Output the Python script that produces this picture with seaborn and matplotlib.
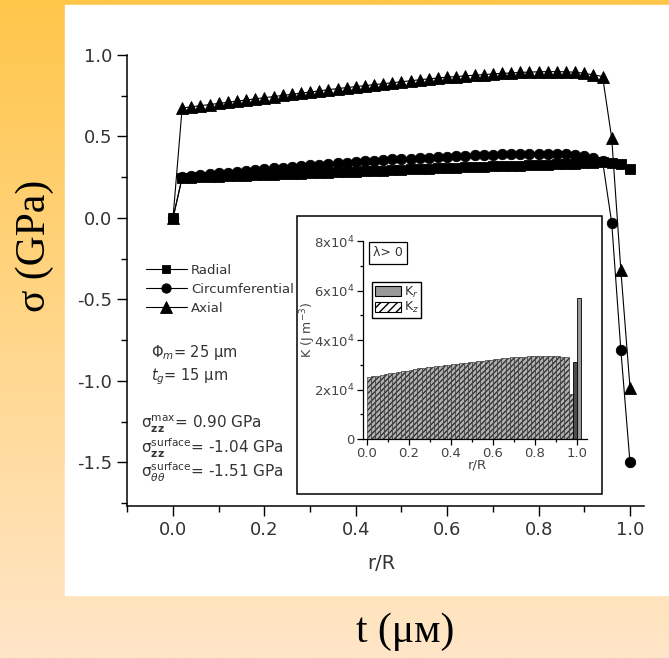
import numpy as np
import pandas as pd
import seaborn as sns
import matplotlib
matplotlib.use("Agg")
import matplotlib.pyplot as plt
from matplotlib.patches import Rectangle, Patch
from matplotlib.ticker import MultipleLocator, FormatStrFormatter

# main plot: stress components vs r/R
r_R = [0.00, 0.02, 0.04, 0.06, 0.08, 0.10, 0.12, 0.14, 0.16, 0.18,
       0.20, 0.22, 0.24, 0.26, 0.28, 0.30, 0.32, 0.34, 0.36, 0.38,
       0.40, 0.42, 0.44, 0.46, 0.48, 0.50, 0.52, 0.54, 0.56, 0.58,
       0.60, 0.62, 0.64, 0.66, 0.68, 0.70, 0.72, 0.74, 0.76, 0.78,
       0.80, 0.82, 0.84, 0.86, 0.88, 0.90, 0.92, 0.94, 0.96, 0.98, 1.00]

radial = [0.000, 0.245, 0.247, 0.249, 0.251, 0.253, 0.255, 0.257, 0.259, 0.261,
          0.263, 0.265, 0.267, 0.269, 0.271, 0.273, 0.275, 0.277, 0.280, 0.282,
          0.284, 0.287, 0.289, 0.291, 0.293, 0.296, 0.298, 0.300, 0.302, 0.304,
          0.306, 0.308, 0.310, 0.312, 0.314, 0.316, 0.318, 0.320, 0.322, 0.324,
          0.326, 0.328, 0.330, 0.332, 0.334, 0.336, 0.340, 0.343, 0.340, 0.332, 0.300]

circumferential = [0.000, 0.250, 0.256, 0.262, 0.268, 0.274, 0.279, 0.284, 0.289, 0.294,
                   0.299, 0.304, 0.309, 0.314, 0.318, 0.323, 0.327, 0.332, 0.336, 0.340,
                   0.344, 0.348, 0.352, 0.356, 0.359, 0.362, 0.365, 0.368, 0.371, 0.374,
                   0.377, 0.380, 0.382, 0.384, 0.386, 0.388, 0.390, 0.391, 0.392, 0.393,
                   0.393, 0.393, 0.392, 0.390, 0.386, 0.379, 0.368, 0.350, -0.03, -0.81, -1.50]

axial = [0.000, 0.675, 0.682, 0.689, 0.696, 0.703, 0.710, 0.717, 0.724, 0.731,
         0.738, 0.745, 0.752, 0.759, 0.766, 0.773, 0.780, 0.787, 0.794, 0.800,
         0.806, 0.812, 0.818, 0.824, 0.830, 0.836, 0.842, 0.848, 0.854, 0.859,
         0.864, 0.868, 0.872, 0.876, 0.880, 0.884, 0.887, 0.890, 0.893, 0.895,
         0.897, 0.898, 0.898, 0.897, 0.894, 0.888, 0.878, 0.868, 0.49, -0.32, -1.04]

# inset: energy density K vs r/R
kz_pos = [0.01, 0.03, 0.05, 0.07, 0.09, 0.11, 0.13, 0.15, 0.17, 0.19,
          0.21, 0.23, 0.25, 0.27, 0.29, 0.31, 0.33, 0.35, 0.37, 0.39,
          0.41, 0.43, 0.45, 0.47, 0.49, 0.51, 0.53, 0.55, 0.57, 0.59,
          0.61, 0.63, 0.65, 0.67, 0.69, 0.71, 0.73, 0.75, 0.77, 0.79,
          0.81, 0.83, 0.85, 0.87, 0.89, 0.91, 0.93, 0.95, 0.97]
kz_vals = [2.50e4, 2.53e4, 2.56e4, 2.59e4, 2.62e4, 2.65e4, 2.67e4, 2.70e4, 2.73e4, 2.76e4,
           2.79e4, 2.82e4, 2.85e4, 2.87e4, 2.89e4, 2.92e4, 2.94e4, 2.96e4, 2.98e4, 3.01e4,
           3.03e4, 3.05e4, 3.07e4, 3.09e4, 3.11e4, 3.13e4, 3.15e4, 3.17e4, 3.19e4, 3.21e4,
           3.23e4, 3.25e4, 3.27e4, 3.28e4, 3.30e4, 3.31e4, 3.32e4, 3.33e4, 3.34e4, 3.35e4,
           3.36e4, 3.37e4, 3.37e4, 3.37e4, 3.36e4, 3.35e4, 3.33e4, 3.30e4, 1.80e4]
kr_pos = [0.992, 1.011]
kr_vals = [3.1e4, 5.7e4]

inset_yticks = [0, 2e4, 4e4, 6e4, 8e4]
inset_ylabels = ["0", r"2x10$^4$", r"4x10$^4$", r"6x10$^4$", r"8x10$^4$"]

sns.set_theme(style="ticks")
plt.rcParams["font.family"] = ["DejaVu Sans"]
plt.rcParams["mathtext.fontset"] = "dejavusans"
plt.rcParams["axes.unicode_minus"] = False

W, H = 669, 658
fig = plt.figure(figsize=(6.69, 6.58), dpi=100)


def px_text(x, y, s, size, **kw):
    kw.setdefault("color", "#333333")
    kw.setdefault("va", "center")
    kw.setdefault("ha", "left")
    return fig.text(x / W, 1 - y / H, s, fontsize=size, **kw)


# slide background
bg = fig.add_axes([0, 0, 1, 1], zorder=-5)
top_c = np.array([255, 198, 74]) / 255
bot_c = np.array([255, 230, 200]) / 255
t = np.linspace(0, 1, 256)[:, None, None]
grad = top_c * (1 - t) + bot_c * t
bg.imshow(grad, aspect="auto", extent=[0, 1, 0, 1], origin="upper")
bg.add_patch(Rectangle((65 / W, 1 - 595 / H), 1 - 65 / W, 590 / H, color="white"))
bg.set_xlim(0, 1)
bg.set_ylim(0, 1)
bg.axis("off")

# main axes
ax = fig.add_axes([127.3 / W, 1 - 506 / H, 516.4 / W, 451 / H])
ax.patch.set_alpha(0)
sns.lineplot(x=r_R, y=axial, marker="^", color="black", lw=0.8, markersize=9,
             mec="black", mew=0.6, ax=ax, label="Axial", clip_on=False)
sns.lineplot(x=r_R, y=circumferential, marker="o", color="black", lw=0.8, markersize=7.5,
             mec="black", mew=0.6, ax=ax, label="Circumferential", clip_on=False)
sns.lineplot(x=r_R, y=radial, marker="s", color="black", lw=0.8, markersize=7,
             mec="black", mew=0.6, ax=ax, label="Radial", clip_on=False)

ax.set_xlim(-0.1, 1.03)
ax.set_ylim(-1.767, 1.0)
ax.xaxis.set_major_locator(MultipleLocator(0.2))
ax.xaxis.set_minor_locator(MultipleLocator(0.1))
ax.yaxis.set_major_locator(MultipleLocator(0.5))
ax.yaxis.set_minor_locator(MultipleLocator(0.25))
ax.xaxis.set_major_formatter(FormatStrFormatter("%.1f"))
ax.yaxis.set_major_formatter(FormatStrFormatter("%.1f"))
ax.tick_params(which="major", direction="out", length=7, width=1, labelsize=13,
               colors="black", labelcolor="#333333", pad=4)
ax.tick_params(which="minor", direction="out", length=4, width=1, colors="black")
for s in ["top", "right"]:
    ax.spines[s].set_visible(False)
for s in ["left", "bottom"]:
    ax.spines[s].set_linewidth(1.1)
    ax.spines[s].set_color("black")
ax.set_ylabel("")
ax.set_xlabel("r/R", fontsize=14, color="#333333")
ax.xaxis.set_label_coords((381 - 127.3) / 516.4, (506 - 554) / 451)

handles, labels = ax.get_legend_handles_labels()
order = [labels.index(n) for n in ["Radial", "Circumferential", "Axial"]]
ax.legend([handles[i] for i in order], [labels[i] for i in order],
          loc="upper left", bbox_to_anchor=(146 / W, 1 - 264 / H),
          bbox_transform=fig.transFigure, frameon=False, fontsize=9.5,
          handlelength=3.1, handletextpad=0.3, labelspacing=0.45, borderaxespad=0,
          borderpad=0, markerscale=0.9, labelcolor="#333333")

# parameter annotations
px_text(151, 353, r"$\Phi_m$= 25 μm", 10.5)
px_text(151, 377, r"$t_g$= 15 μm", 10.5)
px_text(141, 424, r"$\mathrm{σ}_{\mathbf{zz}}^{\mathrm{max}}$= 0.90 GPa", 11)
px_text(141, 448, r"$\mathrm{σ}_{\mathbf{zz}}^{\mathrm{surface}}$= -1.04 GPa", 11)
px_text(141, 472, r"$\mathrm{σ}_{\theta\theta}^{\mathrm{surface}}$= -1.51 GPa", 11)

# slide labels
fig.text(35 / W, 1 - 246 / H, "σ (GPa)", rotation=90, fontsize=30,
         family="Liberation Serif", ha="center", va="center", color="black")
fig.text(405 / W, 1 - 632 / H, "t (μм)", fontsize=30,
         family="Liberation Serif", ha="center", va="center", color="black")

# inset frame
fig.patches.append(Rectangle((297 / W, 1 - 494 / H), 305 / W, 278 / H,
                             transform=fig.transFigure, facecolor="white",
                             edgecolor="black", lw=1.1, zorder=1))

axi = fig.add_axes([363 / W, 1 - 439 / H, 224 / W, 198 / H], zorder=2)
axi.patch.set_alpha(0)
axi.bar(kz_pos, kz_vals, width=0.02, facecolor="0.7", edgecolor="0.2",
        hatch="//////", linewidth=0.45)
axi.bar(kr_pos, kr_vals, width=0.018, facecolor=["0.3", "0.6"], edgecolor="black",
        linewidth=0.6)
axi.set_xlim(-0.019, 1.048)
axi.set_ylim(0, 8e4)
axi.set_yticks(inset_yticks)
axi.set_yticklabels(inset_ylabels)
axi.yaxis.set_minor_locator(MultipleLocator(1e4))
axi.xaxis.set_major_locator(MultipleLocator(0.2))
axi.xaxis.set_minor_locator(MultipleLocator(0.1))
axi.xaxis.set_major_formatter(FormatStrFormatter("%.1f"))
axi.tick_params(which="major", direction="out", length=4, width=0.9, labelsize=9.5,
                colors="black", labelcolor="#444444", pad=2)
axi.tick_params(which="minor", direction="out", length=2, width=0.9, colors="black")
for s in ["top", "right"]:
    axi.spines[s].set_visible(False)
for s in ["left", "bottom"]:
    axi.spines[s].set_linewidth(0.9)
    axi.spines[s].set_color("black")
axi.set_xlabel("r/R", fontsize=9.5, color="#444444")
axi.xaxis.set_label_coords((477 - 363) / 224, (439 - 458) / 198)
axi.set_ylabel(r"K (J m$^{-3}$)", fontsize=9, color="#444444")
axi.yaxis.set_label_coords((318 - 363) / 224, (439 - 330) / 198)

px_text(388, 253, "λ> 0", 9, ha="center", zorder=3,
        bbox=dict(boxstyle="square,pad=0.35", facecolor="white", edgecolor="black", lw=0.9))

leg_handles = [Patch(facecolor="0.6", edgecolor="black", lw=0.8),
               Patch(facecolor="white", edgecolor="black", hatch="////", lw=0.8)]
axi.legend(leg_handles, [r"K$_r$", r"K$_z$"], loc="upper left",
           bbox_to_anchor=(372 / W, 1 - 282 / H), bbox_transform=fig.transFigure,
           fancybox=False, edgecolor="black", framealpha=1, fontsize=9,
           handlelength=2.1, handleheight=0.8, handletextpad=0.25, labelspacing=0.05,
           borderpad=0.2, borderaxespad=0, labelcolor="#333333")

fig.savefig("out.png", dpi=100)
